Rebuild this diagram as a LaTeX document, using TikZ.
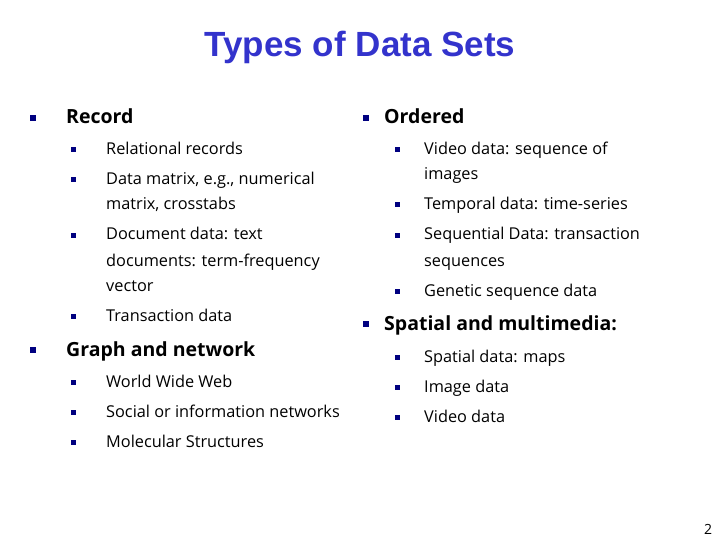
\documentclass[tikz,border=0pt]{standalone}
\usepackage{fontspec}
\setmainfont{Open Sans}
\newfontfamily\titlefont{Liberation Sans}
\definecolor{tblue}{HTML}{3333CC}
\definecolor{bnavy}{HTML}{000080}
\begin{document}
\begin{tikzpicture}[x=1pt,y=-1pt,
  top/.style={anchor=base west,inner sep=0,font=\fontsize{19.5}{19.5}\selectfont\bfseries},
  sub/.style={anchor=base west,inner sep=0,font=\fontsize{16.3}{16.3}\selectfont},
  bt/.style={fill=bnavy,minimum size=6.5pt,inner sep=0},
  bs/.style={fill=bnavy,minimum size=5pt,inner sep=0}]
\useasboundingbox (0,0) rectangle (720,540);
\node[font=\titlefont\bfseries\fontsize{35}{35}\selectfont,text=tblue] (title) at (360,47) {Types of Data Sets};
% left column
\node[bt] (b1) at (33,118) {}; \node[top] (t1) at (66,124) {Record};
\node[bs] (s1) at (73,150) {}; \node[sub] (u1) at (106,155) {Relational records};
\node[bs] (s2) at (73,180) {}; \node[sub] (u2) at (106,185) {Data matrix, e.g., numerical};
\node[sub] (u2b) at (106,210) {matrix, crosstabs};
\node[bs] (s3) at (73,235) {}; \node[sub] (u3) at (106,240) {Document data: text};
\node[sub] (u3b) at (106,266) {documents: term-frequency};
\node[sub] (u3c) at (106,291) {vector};
\node[bs] (s4) at (73,316) {}; \node[sub] (u4) at (106,321) {Transaction data};
\node[bt] (b2) at (33,350) {}; \node[top] (t2) at (66,356) {Graph and network};
\node[bs] (s5) at (73,382) {}; \node[sub] (u5) at (106,387) {World Wide Web};
\node[bs] (s6) at (73,412) {}; \node[sub] (u6) at (106,417) {Social or information networks};
\node[bs] (s7) at (73,442) {}; \node[sub] (u7) at (106,447) {Molecular Structures};
% right column
\node[bt] (b3) at (366,118) {}; \node[top] (t3) at (384,124) {Ordered};
\node[bs] (r1) at (397,150) {}; \node[sub] (v1) at (424,155) {Video data: sequence of};
\node[sub] (v1b) at (424,180) {images};
\node[bs] (r2) at (397,205) {}; \node[sub] (v2) at (424,210) {Temporal data: time-series};
\node[bs] (r3) at (397,235) {}; \node[sub] (v3) at (424,240) {Sequential Data: transaction};
\node[sub] (v3b) at (424,266) {sequences};
\node[bs] (r4) at (397,291) {}; \node[sub] (v4) at (424,296) {Genetic sequence data};
\node[bt] (b4) at (366,324) {}; \node[top] (t4) at (384,330) {Spatial and multimedia:};
\node[bs] (r5) at (397,357) {}; \node[sub] (v5) at (424,362) {Spatial data: maps};
\node[bs] (r6) at (397,387) {}; \node[sub] (v6) at (424,392) {Image data};
\node[bs] (r7) at (397,417) {}; \node[sub] (v7) at (424,422) {Video data};
\node[anchor=base,inner sep=0,font=\fontsize{14}{14}\selectfont] (pg) at (708,534) {2};
\end{tikzpicture}
\end{document}
